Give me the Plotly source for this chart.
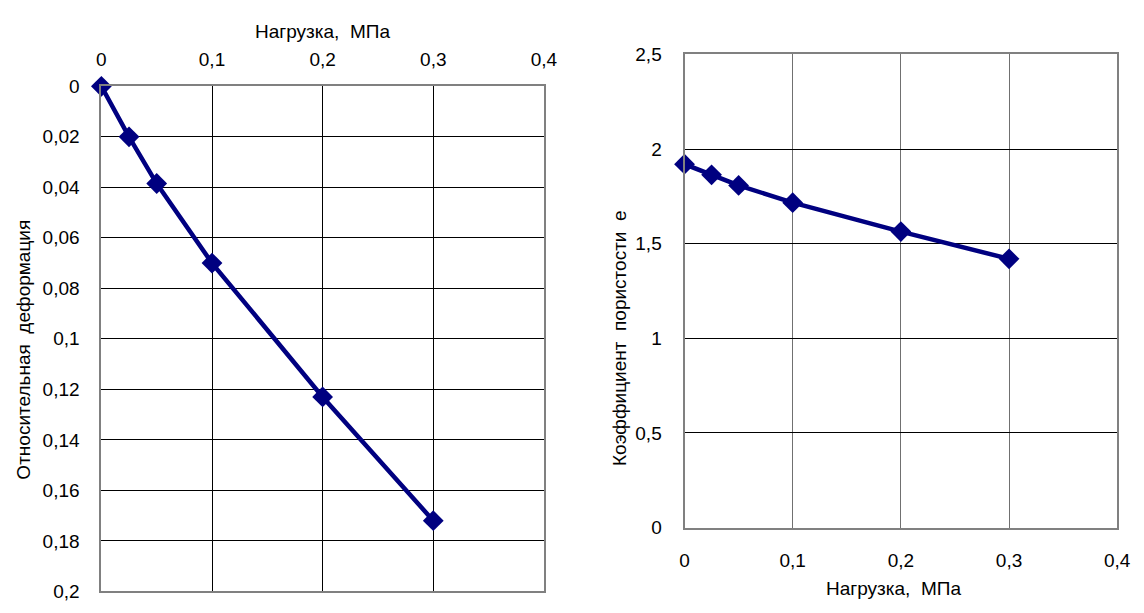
import plotly.graph_objects as go

# Data
load_left = [0, 0.025, 0.05, 0.1, 0.2, 0.3]
strain = [0, 0.02, 0.0385, 0.07, 0.123, 0.172]

load_right = [0, 0.025, 0.05, 0.1, 0.2, 0.3]
void_ratio = [1.92, 1.864, 1.808, 1.717, 1.564, 1.42]

x_tickvals = [0, 0.1, 0.2, 0.3, 0.4]
x_ticktext = ["0", "0,1", "0,2", "0,3", "0,4"]
yl_tickvals = [0, 0.02, 0.04, 0.06, 0.08, 0.1, 0.12, 0.14, 0.16, 0.18, 0.2]
yl_ticktext = ["0", "0,02", "0,04", "0,06", "0,08", "0,1", "0,12", "0,14", "0,16", "0,18", "0,2"]
yr_tickvals = [0, 0.5, 1, 1.5, 2, 2.5]
yr_ticktext = ["0", "0,5", "1", "1,5", "2", "2,5"]

NAVY = "#000080"
FONT = "Liberation Sans, Arial, sans-serif"
W, H = 1144, 613

fig = go.Figure()
fig.add_trace(go.Scatter(x=load_left, y=strain, mode="lines+markers",
                         line=dict(color=NAVY, width=4.5),
                         marker=dict(symbol="diamond", size=16, color=NAVY),
                         xaxis="x", yaxis="y", showlegend=False, cliponaxis=False))
fig.add_trace(go.Scatter(x=load_right, y=void_ratio, mode="lines+markers",
                         line=dict(color=NAVY, width=4.5),
                         marker=dict(symbol="diamond", size=16, color=NAVY),
                         xaxis="x2", yaxis="y2", showlegend=False, cliponaxis=False))

def px_x(p):
    return p / W

def px_y(p):
    return 1 - p / H

tickfont = dict(family=FONT, size=19, color="black")
common = dict(showline=True, mirror=True, linecolor="#808080", linewidth=2,
              showgrid=True, gridwidth=1, zeroline=False, ticks="",
              tickfont=tickfont)

L_x0, L_x1, L_y0, L_y1 = 98, 548, 79, 602
R_x0, R_x1, R_y0, R_y1 = 691, 1131, 46, 536

fig.update_layout(
    width=W, height=H, margin=dict(l=0, r=0, t=0, b=0),
    paper_bgcolor="white", plot_bgcolor="white",
    separators=", ",
    font=dict(family=FONT, color="black"),
    xaxis=dict(domain=[px_x(L_x0), px_x(L_x1)], range=[0, 0.4], side="top",
               anchor="y", tickvals=x_tickvals, ticktext=x_ticktext,
               gridcolor="black", ticklabelstandoff=11, **common),
    yaxis=dict(domain=[px_y(L_y1), px_y(L_y0)], range=[0.2, 0], anchor="x",
               tickvals=yl_tickvals, ticktext=yl_ticktext,
               gridcolor="black", ticklabelstandoff=16, **common),
    xaxis2=dict(domain=[px_x(R_x0), px_x(R_x1)], range=[0, 0.4], anchor="y2",
                tickvals=x_tickvals, ticktext=x_ticktext,
                gridcolor="#707070", ticklabelstandoff=15, **common),
    yaxis2=dict(domain=[px_y(R_y1), px_y(R_y0)], range=[0, 2.5], anchor="x2",
                tickvals=yr_tickvals, ticktext=yr_ticktext,
                gridcolor="black", ticklabelstandoff=17, **common),
)

tfont = dict(family=FONT, size=19, color="black")
fig.add_annotation(text="Нагрузка,\u00a0 МПа", x=px_x((L_x0 + L_x1) / 2), y=px_y(22),
                   xref="paper", yref="paper", showarrow=False, font=tfont,
                   xanchor="center", yanchor="middle")
fig.add_annotation(text="Относительная\u00a0 деформация", x=px_x(19), y=px_y(352),
                   xref="paper", yref="paper", showarrow=False, font=tfont, textangle=-90,
                   xanchor="center", yanchor="middle")
fig.add_annotation(text="Нагрузка,\u00a0 МПа", x=px_x(903), y=px_y(599),
                   xref="paper", yref="paper", showarrow=False, font=tfont,
                   xanchor="center", yanchor="middle")
fig.add_annotation(text="Коэффициент\u00a0 пористости\u00a0 е", x=px_x(625), y=px_y(340),
                   xref="paper", yref="paper", showarrow=False, font=tfont, textangle=-90,
                   xanchor="center", yanchor="middle")

fig.write_html("out.html", post_script="document.body.style.margin='0';")
